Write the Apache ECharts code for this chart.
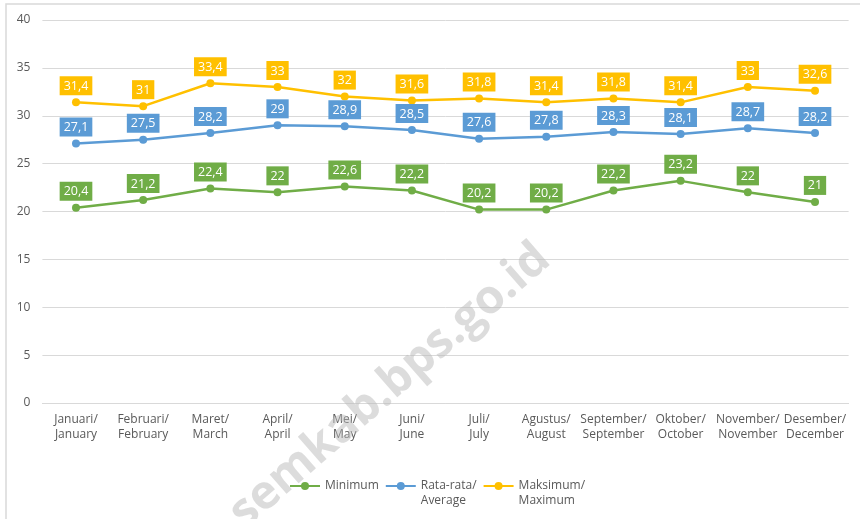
<!DOCTYPE html>
<html><head><meta charset="utf-8">
<script src="https://cdn.jsdelivr.net/npm/echarts@6/dist/echarts.min.js"></script>
<style>html,body{margin:0;padding:0;background:#fff}#c{width:860px;height:519px}</style>
</head><body><div id="c"></div>
<script>
const categories = ['Januari/\nJanuary','Februari/\nFebruary','Maret/\nMarch','April/\nApril','Mei/\nMay','Juni/\nJune','Juli/\nJuly','Agustus/\nAugust','September/\nSeptember','Oktober/\nOctober','November/\nNovember','Desember/\nDecember'];
const minimum = [20.4,21.2,22.4,22,22.6,22.2,20.2,20.2,22.2,23.2,22,21];
const average = [27.1,27.5,28.2,29,28.9,28.5,27.6,27.8,28.3,28.1,28.7,28.2];
const maximum = [31.4,31,33.4,33,32,31.6,31.8,31.4,31.8,31.4,33,32.6];
const seriesNames = ['Minimum','Rata-rata/\nAverage','Maksimum/\nMaximum'];
const colors = ['#70AD47','#5B9BD5','#FFC000'];
const FONT = '"Open Sans", "Noto Sans", sans-serif';

const chart = echarts.init(document.getElementById('c'), null, {renderer:'canvas'});
function mk(name, data, color){
  return {
    name, type:'line', data, symbol:'circle', symbolSize:8,
    lineStyle:{color, width:2.5}, itemStyle:{color},
    label:{show:true, position:'top', distance:3, color:'#fff', backgroundColor:color,
      textBorderWidth:0, textBorderColor:'transparent', textShadowBlur:0,
      padding:[3,4,2,4], fontSize:12.5, lineHeight:14, fontFamily:FONT,
      formatter:p=>String(p.value).replace('.',',')},
    z:3
  };
}
chart.setOption({
  animation:false,
  textStyle:{fontFamily:FONT},
  graphic:[
    {type:'rect', shape:{x:6, y:4, width:900, height:600}, style:{fill:'none', stroke:'#d9d9d9', lineWidth:1.5}, z:-10},
    {type:'text', x:390, y:386, rotation:41*Math.PI/180, style:{text:'semkab.bps.go.id', fill:'rgba(185,185,185,0.5)', font:'bold 47px "Open Sans", sans-serif', align:'center', verticalAlign:'middle'}, z:10}
  ],
  grid:{left:42.4, right:11.4, top:20, bottom:116},
  legend:{
    left:289, top:463.5, padding:0, itemWidth:30, itemHeight:10, itemGap:6,
    textStyle:{color:'#595959', fontSize:12, fontFamily:FONT, lineHeight:15},
    formatter:n=>n.indexOf('\n')>=0 ? '\n'+n : n,
    data:seriesNames
  },
  xAxis:{type:'category', data:categories, boundaryGap:true,
    axisLine:{lineStyle:{color:'#d9d9d9', width:1}}, axisTick:{show:false},
    axisLabel:{color:'#595959', fontSize:12, lineHeight:15, margin:9.5, interval:0, fontFamily:FONT}},
  yAxis:{type:'value', min:0, max:40, interval:5,
    axisLine:{show:false}, axisTick:{show:false},
    splitLine:{lineStyle:{color:'#d9d9d9', width:1}},
    axisLabel:{color:'#595959', fontSize:12, margin:12, fontFamily:FONT}},
  series:[mk(seriesNames[0],minimum,colors[0]), mk(seriesNames[1],average,colors[1]), mk(seriesNames[2],maximum,colors[2])]
});
</script></body></html>
